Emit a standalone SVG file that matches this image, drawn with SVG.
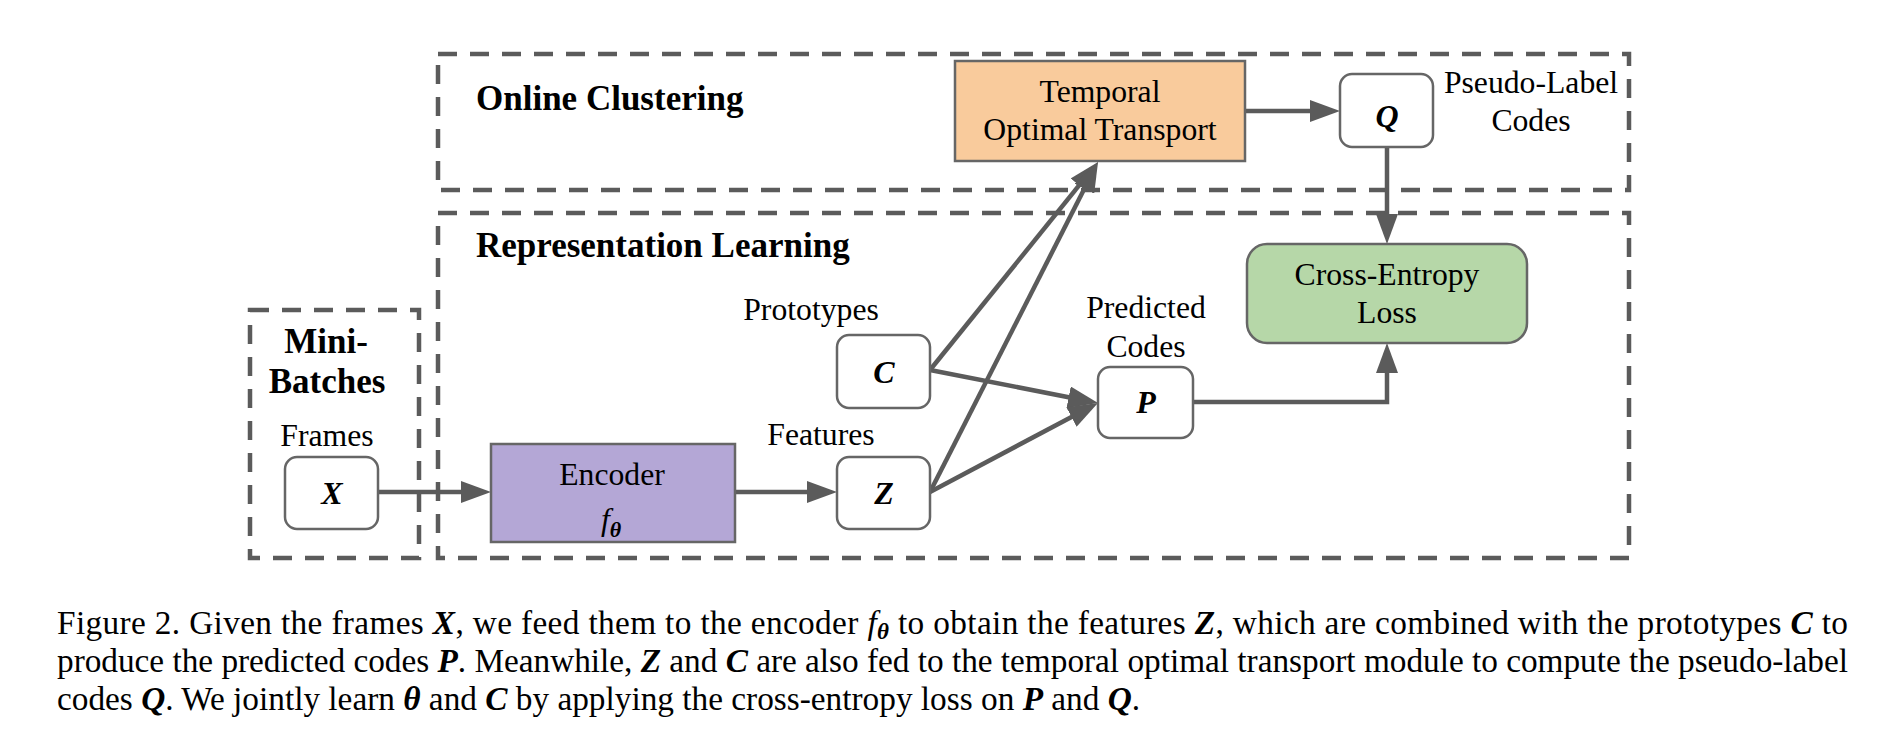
<svg xmlns="http://www.w3.org/2000/svg" width="1888" height="734" viewBox="0 0 1888 734">
<defs>
<style>
.dash{fill:none;stroke:#5b5b5b;stroke-width:4.5;stroke-dasharray:19 13}
.box{stroke:#666;stroke-width:2.5}
.wb{fill:#fff}
.conn{fill:none;stroke:#5b5b5b;stroke-width:4.5}
.t{font-family:"Liberation Serif","Times New Roman",serif;font-size:31.7px;fill:#000}
.cap{font-family:"Liberation Serif","Times New Roman",serif;font-size:33.3px;fill:#000}
.h{font-family:"Liberation Serif","Times New Roman",serif;font-size:35px;font-weight:bold;fill:#000}
.m{font-family:"Liberation Serif","Times New Roman",serif;font-size:32px;font-weight:bold;font-style:italic;fill:#000}
.c{text-anchor:middle}
.bi{font-weight:bold;font-style:italic}
</style>
<marker id="ah" markerUnits="userSpaceOnUse" markerWidth="30" markerHeight="22" refX="22" refY="11" orient="auto" viewBox="0 0 30 22">
<path d="M0,0 L30,11 L0,22 z" fill="#5b5b5b"/>
</marker>
</defs>
<rect width="1888" height="734" fill="#fff"/>
<g id="online-clustering">
<rect class="dash" x="438" y="54" width="1191" height="136"/>
<text class="h" x="476" y="110">Online Clustering</text>
</g>
<g id="representation-learning">
<rect class="dash" x="438" y="213" width="1191" height="345"/>
<text class="h" x="476" y="257">Representation Learning</text>
</g>
<g id="mini-batches">
<rect class="dash" x="250" y="310" width="169" height="248"/>
<text class="h c" x="326" y="353">Mini-</text>
<text class="h c" x="327" y="393">Batches</text>
</g>
<g id="connectors">
<line class="conn" x1="378" y1="492" x2="483" y2="492" marker-end="url(#ah)"/>
<line class="conn" x1="735" y1="492" x2="829" y2="492" marker-end="url(#ah)"/>
<line class="conn" x1="1245" y1="111" x2="1332" y2="111" marker-end="url(#ah)"/>
<line class="conn" x1="1387" y1="147" x2="1387" y2="236" marker-end="url(#ah)"/>
<line class="conn" x1="930" y1="370" x2="1090.2" y2="401.5" marker-end="url(#ah)"/>
<line class="conn" x1="930" y1="492" x2="1090.9" y2="406.7" marker-end="url(#ah)"/>
<line class="conn" x1="930" y1="370" x2="1093" y2="168.2" marker-end="url(#ah)"/>
<line class="conn" x1="930" y1="492" x2="1094.4" y2="169.1" marker-end="url(#ah)"/>
<polyline class="conn" points="1193,402 1387,402 1387,351" marker-end="url(#ah)"/>
</g>
<g id="frames-x">
<text class="t c" x="327" y="446">Frames</text>
<rect class="box wb" x="285" y="457" width="93" height="72" rx="12"/>
<text class="m c" x="332" y="504">X</text>
</g>
<g id="encoder">
<rect class="box" x="491" y="444" width="244" height="98" fill="#b4a7d6"/>
<text class="t c" x="612" y="485">Encoder</text>
<text class="t" x="601" y="530"><tspan font-style="italic">f</tspan><tspan class="bi" font-size="22" dy="7">θ</tspan></text>
</g>
<g id="prototypes-c">
<text class="t c" x="811" y="320">Prototypes</text>
<rect class="box wb" x="837" y="335" width="93" height="73" rx="12"/>
<text class="m c" x="884" y="383">C</text>
</g>
<g id="features-z">
<text class="t c" x="821" y="445">Features</text>
<rect class="box wb" x="837" y="457" width="93" height="72" rx="12"/>
<text class="m c" x="884" y="504">Z</text>
</g>
<g id="predicted-p">
<text class="t c" x="1146" y="318">Predicted</text>
<text class="t c" x="1146" y="357">Codes</text>
<rect class="box wb" x="1098" y="367" width="95" height="71" rx="12"/>
<text class="m c" x="1146" y="413">P</text>
</g>
<g id="temporal-ot">
<rect class="box" x="955" y="61" width="290" height="100" fill="#f9cb9c"/>
<text class="t c" x="1100" y="102">Temporal</text>
<text class="t c" x="1100" y="140">Optimal Transport</text>
</g>
<g id="pseudo-q">
<rect class="box wb" x="1340" y="74" width="93" height="73" rx="12"/>
<text class="m c" x="1387" y="127">Q</text>
<text class="t c" x="1531" y="93">Pseudo-Label</text>
<text class="t c" x="1531" y="131">Codes</text>
</g>
<g id="cross-entropy">
<rect class="box" x="1247" y="244" width="280" height="99" rx="20" fill="#b6d7a8"/>
<text class="t c" x="1387" y="285">Cross-Entropy</text>
<text class="t c" x="1387" y="323">Loss</text>
</g>
<g id="caption">
<text class="cap" x="57" y="634" textLength="1791" lengthAdjust="spacing">Figure 2.  Given the frames <tspan class="bi">X</tspan>, we feed them to the encoder <tspan font-style="italic">f</tspan><tspan class="bi" font-size="23" dy="5">θ</tspan><tspan dy="-5"> to obtain the features </tspan><tspan class="bi">Z</tspan>, which are combined with the prototypes <tspan class="bi">C</tspan> to</text>
<text class="cap" x="57" y="672" textLength="1791" lengthAdjust="spacing">produce the predicted codes <tspan class="bi">P</tspan>. Meanwhile, <tspan class="bi">Z</tspan> and <tspan class="bi">C</tspan> are also fed to the temporal optimal transport module to compute the pseudo-label</text>
<text class="cap" x="57" y="710">codes <tspan class="bi">Q</tspan>. We jointly learn <tspan class="bi">θ</tspan> and <tspan class="bi">C</tspan> by applying the cross-entropy loss on <tspan class="bi">P</tspan> and <tspan class="bi">Q</tspan>.</text>
</g>
</svg>
